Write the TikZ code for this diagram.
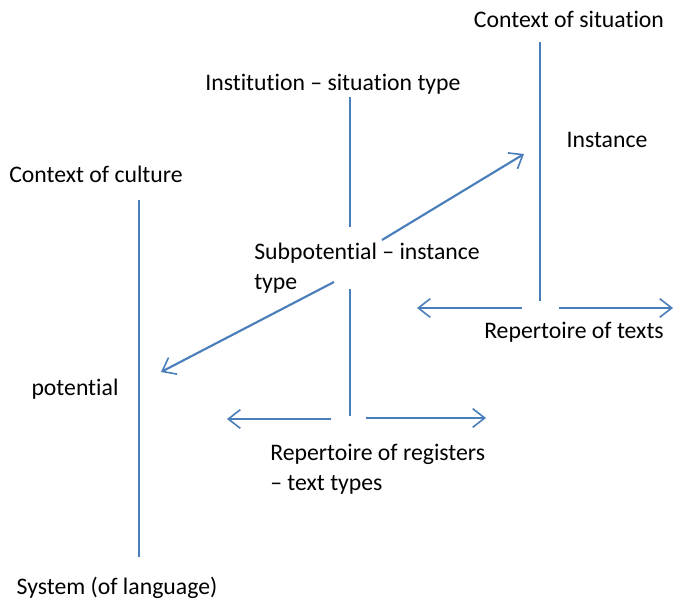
\documentclass[tikz,border=0pt]{standalone}
\usepackage{fontspec}
\setmainfont{Carlito}[RawFeature={-liga;-clig;-calt;-dlig}]
\usetikzlibrary{arrows.meta}
\definecolor{lineblue}{RGB}{74,126,187}

\begin{document}
\begin{tikzpicture}[x=0.75pt, y=-0.75pt,
    line/.style={color=lineblue, line width=1.6pt},
    arr/.style={line, -{Straight Barb[length=9pt, width=14pt, line width=1.2pt]}},
    lbl/.style={inner sep=0pt, anchor=base, font=\fontsize{17.8pt}{22.5pt}\selectfont},
    blk/.style={lbl, anchor=north west, align=left}]
    \useasboundingbox (0, 0) rectangle (674, 599);

    \node [lbl] (situation) at (569, 28) {Context of situation};
    \node [lbl] (institution) at (333, 91) {Institution -- situation type};
    \node [lbl] (instance) at (607, 147) {Instance};
    \node [lbl] (culture) at (96, 182) {Context of culture};
    \node [blk] (subpot) at (254, 243) {Subpotential -- instance\\type};
    \node [lbl] (texts) at (574, 338) {Repertoire of texts};
    \node [lbl] (potential) at (75, 395) {potential};
    \node [blk] (registers) at (270, 444) {Repertoire of registers\\-- text types};
    \node [lbl] (system) at (117, 594) {System (of language)};

    \coordinate (s1) at (540, 42);   \coordinate (s2) at (540, 301);
    \coordinate (i1) at (350, 97);   \coordinate (i2) at (350, 227);
    \coordinate (c1) at (139, 200);  \coordinate (c2) at (139, 557);
    \coordinate (r1) at (350, 289);  \coordinate (r2) at (350, 416);
    \coordinate (up0) at (382, 240); \coordinate (up1) at (524, 154);
    \coordinate (dn0) at (334, 282); \coordinate (dn1) at (161, 372);
    \coordinate (tl0) at (522, 308); \coordinate (tl1) at (417, 308);
    \coordinate (tr0) at (559, 308); \coordinate (tr1) at (673, 308);
    \coordinate (gl0) at (331, 419); \coordinate (gl1) at (227, 419);
    \coordinate (gr0) at (366, 418); \coordinate (gr1) at (486, 418);

    \draw [line] (s1) to (s2);
    \draw [line] (i1) to (i2);
    \draw [line] (c1) to (c2);
    \draw [line] (r1) to (r2);

    \draw [arr] (up0) to (up1);
    \draw [arr] (dn0) to (dn1);
    \draw [arr] (tl0) to (tl1);
    \draw [arr] (tr0) to (tr1);
    \draw [arr] (gl0) to (gl1);
    \draw [arr] (gr0) to (gr1);

  \end{tikzpicture}
\end{document}
